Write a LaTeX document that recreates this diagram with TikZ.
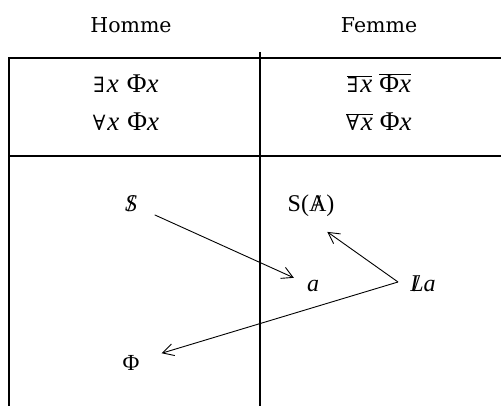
\documentclass[tikz,border=0pt]{standalone}
\usepackage{fontspec}
\setmainfont{Liberation Serif}
\newfontfamily\headfont{DejaVu Serif}
\newfontfamily\symfont{DejaVu Serif}
\usetikzlibrary{arrows.meta}

\newcommand{\barre}[1]{\ooalign{#1\cr\hidewidth/\hidewidth\cr}}
\newcommand{\ovl}[1]{$\overline{\hbox{#1}}$}
\newcommand{\exq}{{\symfont\fontsize{21}{25}\selectfont ∃}\hspace{2pt}}
\newcommand{\alq}{{\symfont\fontsize{21}{25}\selectfont ∀}\hspace{2pt}}

\begin{document}
\begin{tikzpicture}[
  x=1pt, y=-1pt,
  head/.style={font=\headfont\fontsize{20.5}{24}\selectfont},
  formula/.style={anchor=base, font=\fontsize{27}{31}\selectfont},
  term/.style={anchor=base, inner sep=3pt, font=\fontsize{24}{28}\selectfont},
  rule/.style={line width=1.2pt},
  >={Straight Barb[length=11pt,width=12pt]},
  link/.style={->, line width=0.9pt}
]
  \useasboundingbox (0,0) rectangle (501,406);

  % table
  \draw[rule] (9,406) -- (9,58) -- (501,58);
  \draw[rule] (9,156) -- (501,156);
  \draw[rule] (260,52) -- (260,406);

  \node[head] (homme) at (131,25) {Homme};
  \node[head] (femme) at (379,25) {Femme};

  \node[formula] (exh) at (126,93)  {\exq\textit{x}\hspace{8pt}Φ\textit{x}};
  \node[formula] (alh) at (126,131) {\alq\textit{x}\hspace{8pt}Φ\textit{x}};
  \node[formula] (exf) at (379,93)  {\ovl{\exq\textit{x}}\hspace{7pt}\ovl{Φ\textit{x}}};
  \node[formula] (alf) at (379,131) {\ovl{\alq\textit{x}}\hspace{7pt}Φ\textit{x}};

  % lower part
  \node[term] (sb)  at (131,212) {\barre{\textit{S}}};
  \node[term] (sA)  at (311,212) {S(\barre{A})};
  \node[term] (a)   at (313,292) {\textit{a}};
  \node[term] (La)  at (423,292) {\barre{\textit{L}}\textit{a}};
  \node[term, font=\fontsize{23}{27}\selectfont] (phi) at (131,370) {Φ};
  \coordinate (fork) at (398,282);

  \draw[link, shorten <=26pt, shorten >=21pt] (sb.center) -- (a.center);
  \draw[link, shorten >=20pt] (fork) -- (sA.south);
  \draw[link, shorten >=32pt] (fork) -- (phi.center);
\end{tikzpicture}
\end{document}
